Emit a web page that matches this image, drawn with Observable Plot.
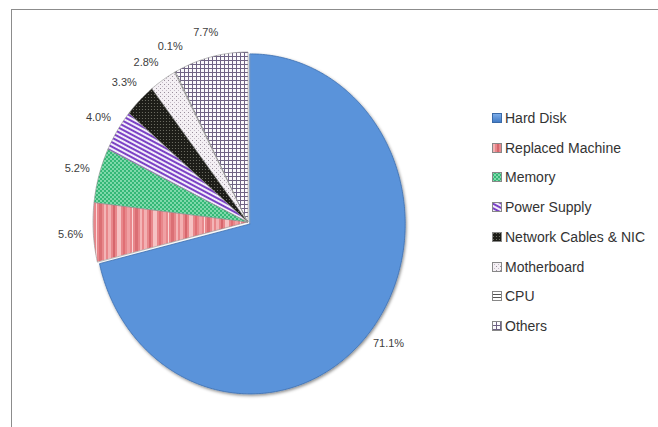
<!DOCTYPE html>
<html><head><meta charset="utf-8">
<script src="https://cdn.jsdelivr.net/npm/d3@7"></script>
<script src="https://cdn.jsdelivr.net/npm/@observablehq/plot@0.6"></script>
<style>
body{margin:0;background:#fff;}
#wrap{position:relative;width:658px;height:427px;overflow:hidden;background:#fff;}
#frame{position:absolute;left:11px;top:9px;width:720px;height:520px;border:1px solid #8c8c8c;box-sizing:border-box;}
#chart{position:absolute;left:0;top:0;}
#legend{position:absolute;left:492px;top:0;font-family:"Liberation Sans",Arial,sans-serif;font-size:14px;color:#333;}
.item{position:absolute;left:0;white-space:nowrap;display:flex;align-items:center;height:16px;}
.item svg{margin-right:3px;display:block}
</style></head>
<body>
<svg width="0" height="0" style="position:absolute">
<defs>
  <linearGradient id="g0" x1="0" y1="0" x2="0" y2="1">
    <stop offset="0" stop-color="#7fb0ec"/><stop offset="1" stop-color="#3f78c4"/>
  </linearGradient>
  <pattern id="p1" patternUnits="userSpaceOnUse" width="36" height="10">
    <rect width="36" height="10" fill="#E8878B"/>
    <rect x="0" width="3" height="10" fill="#F3B0B2"/>
    <rect x="5" width="2" height="10" fill="#D7666C"/>
    <rect x="9" width="4" height="10" fill="#F6C2C3"/>
    <rect x="15" width="2" height="10" fill="#E06F74"/>
    <rect x="19" width="3" height="10" fill="#F0A0A3"/>
    <rect x="24" width="1" height="10" fill="#FBD6D7"/>
    <rect x="27" width="3" height="10" fill="#DB6F74"/>
    <rect x="32" width="2" height="10" fill="#F4B5B7"/>
  </pattern>
  <pattern id="p2" patternUnits="userSpaceOnUse" width="4" height="4">
    <rect width="4" height="4" fill="#35B877"/>
    <circle cx="1" cy="1" r="0.9" fill="#A3E8C3"/>
    <circle cx="3" cy="3" r="0.9" fill="#A3E8C3"/>
  </pattern>
  <pattern id="p3" patternUnits="userSpaceOnUse" width="5" height="4" patternTransform="rotate(28)">
    <rect width="5" height="4" fill="#F3EEFA"/>
    <rect width="5" height="2" fill="#7B42C6"/>
  </pattern>
  <pattern id="p4" patternUnits="userSpaceOnUse" width="3" height="3">
    <rect width="3" height="3" fill="#1d1d18"/>
    <circle cx="1.5" cy="1.5" r="0.6" fill="#77776c"/>
  </pattern>
  <pattern id="p5" patternUnits="userSpaceOnUse" width="4" height="4">
    <rect width="4" height="4" fill="#f4f0f4"/>
    <rect x="0" y="0" width="1" height="1" fill="#9a8f9c"/>
    <rect x="2" y="2" width="1" height="1" fill="#c4bac6"/>
  </pattern>
  <pattern id="p6" patternUnits="userSpaceOnUse" width="3" height="3">
    <rect width="3" height="3" fill="#fff"/>
    <rect width="3" height="1" fill="#555"/>
  </pattern>
  <pattern id="p7" patternUnits="userSpaceOnUse" width="4" height="4">
    <rect width="4" height="4" fill="#fbfafc"/>
    <rect x="0" y="0" width="1" height="4" fill="#6f6384"/>
    <rect x="0" y="0" width="4" height="1" fill="#6f6384"/>
  </pattern>
  <filter id="shadow" x="-10%" y="-10%" width="120%" height="120%">
    <feDropShadow dx="1" dy="1.5" stdDeviation="1.5" flood-color="#000" flood-opacity="0.45"/>
  </filter>
</defs>
</svg>
<div id="wrap"><div id="frame"></div><div id="chart"></div><div id="legend"></div></div>
<script>
// ---- data ----
const categories = ["Hard Disk", "Replaced Machine", "Memory", "Power Supply", "Network Cables & NIC", "Motherboard", "CPU", "Others"];
const values = [71.1, 5.6, 5.2, 4.0, 3.3, 2.8, 0.1, 7.7];
const labels = ["71.1%", "5.6%", "5.2%", "4.0%", "3.3%", "2.8%", "0.1%", "7.7%"];

// ---- styles ----
const fills = ["#5A93DA", "url(#p1)", "url(#p2)", "url(#p3)", "url(#p4)", "url(#p5)", "url(#p6)", "url(#p7)"];
const legendFills = ["url(#g0)", "url(#p1)", "url(#p2)", "url(#p3)", "url(#p4)", "url(#p5)", "url(#p6)", "url(#p7)"];
const explode = [0.018, 0, 0, 0, 0, 0, 0, 0];
const labelRadius = 1.15;
const minSep = 9 * Math.PI / 180; // minimum angular gap between neighbouring labels

const arcs = d3.pie().sort(null).value(d => d)(values);
const slices = arcs.map((a, i) => {
  const mid = (a.startAngle + a.endAngle) / 2;
  const ox = explode[i] * Math.sin(mid), oy = explode[i] * Math.cos(mid);
  const n = Math.max(2, Math.ceil((a.endAngle - a.startAngle) / 0.01));
  const pts = d3.range(n + 1).map(k => {
    const t = a.startAngle + (a.endAngle - a.startAngle) * k / n;
    return {cx: ox, cy: oy, x: ox + Math.sin(t), y: oy + Math.cos(t)};
  });
  return {i, pts, mid};
});

// label angles: start at slice middles, then relax so neighbours keep a minimum gap
const ang = arcs.map(a => (a.startAngle + a.endAngle) / 2);
for (let it = 0; it < 200; it++) {
  for (let i = 1; i < ang.length; i++) {
    const d = ang[i] - ang[i - 1];
    if (d < minSep) { const push = (minSep - d) / 2; ang[i - 1] -= push; ang[i] += push; }
  }
}
const labelData = ang.map((t, i) => ({x: labelRadius * Math.sin(t), y: labelRadius * Math.cos(t), text: labels[i]}));

const marks = slices.map(s => Plot.area(s.pts, {
  x1: "cx", y1: "cy", x2: "x", y2: "y", curve: "linear",
  fill: fills[s.i],
  stroke: s.i === 0 ? "#3c6fb0" : "#8f8f8f",
  strokeWidth: s.i === 0 ? 0.8 : 0.6,
  className: "slice-" + s.i
}));
marks.push(Plot.text(labelData, {x: "x", y: "y", text: "text", fontSize: 11, fill: "#404040",
  fontFamily: "Liberation Sans, Arial, sans-serif"}));

const chart = Plot.plot({
  width: 658, height: 427,
  margin: 0,
  style: {background: "transparent", overflow: "visible"},
  x: {domain: [-1, 1], range: [93, 403], axis: null},
  y: {domain: [-1, 1], range: [392, 52], axis: null},
  marks
});
const hd = chart.querySelector(".slice-0");
if (hd) hd.setAttribute("filter", "url(#shadow)");
document.getElementById("chart").appendChild(chart);

// ---- legend ----
const legend = document.getElementById("legend");
categories.forEach((c, i) => {
  const item = document.createElement("div");
  item.className = "item";
  item.style.top = (110 + i * 29.7) + "px";
  item.innerHTML = `<svg width="10" height="10"><rect x="0.5" y="0.5" width="9" height="9" fill="${legendFills[i]}" stroke="${i === 0 ? '#3a6aa8' : '#888'}" stroke-width="1"/></svg><span>${c.replace("&", "&amp;")}</span>`;
  legend.appendChild(item);
});
</script>
</body></html>
